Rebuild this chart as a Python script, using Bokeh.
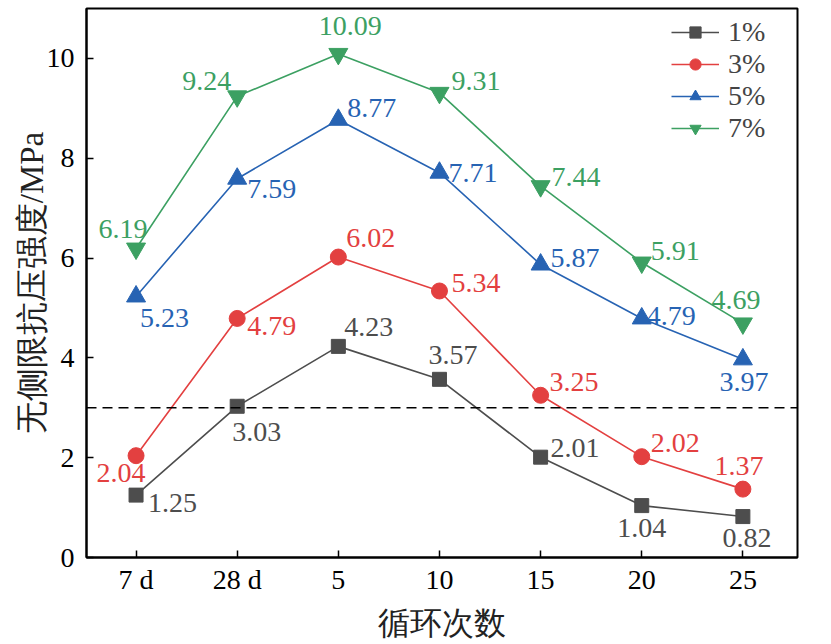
from bokeh.plotting import figure
from bokeh.models import ColumnDataSource, Span, FixedTicker, Legend, LegendItem
from bokeh.core.properties import value
from bokeh.embed import file_html
from bokeh.resources import INLINE

x_labels = ["7 d", "28 d", "5", "10", "15", "20", "25"]
series_names = ["1%", "3%", "5%", "7%"]
s1 = [1.25, 3.03, 4.23, 3.57, 2.01, 1.04, 0.82]
s3 = [2.04, 4.79, 6.02, 5.34, 3.25, 2.02, 1.37]
s5 = [5.23, 7.59, 8.77, 7.71, 5.87, 4.79, 3.97]
s7 = [6.19, 9.24, 10.09, 9.31, 7.44, 5.91, 4.69]
threshold = 3.0

# styles
colors = ["#4d4d4d", "#e34040", "#2763b3", "#3ca062"]
markers = ["square", "circle", "triangle", "inverted_triangle"]
msizes = [14, 16, 19, 19]
# label offsets (dx, dy px from point to text centre; dy positive = down) and alignment
label_dx = [
    [12, -5, 6, -11, 10, 0, 4],
    [-15, 10, 8, 12, 9, 9, -4],
    [4, 10, 9, 9, 10, 5, 1],
    [-13, -6, 12, 12, 11, 9, -7],
]
label_dy = [
    [8, 26, -19, -24, -9, 22, 21],
    [17, 8, -19, -8, -13, -14, -23],
    [22, 10, -12, 0, -7, -2, 23],
    [-20, -15, -28, -12, -9, -12, -23],
]
label_align = [
    ["left", "left", "left", "left", "left", "center", "center"],
    ["center", "left", "left", "left", "left", "left", "center"],
    ["left", "left", "left", "left", "left", "left", "center"],
    ["center", "right", "center", "left", "left", "left", "center"],
]

SERIF = "Liberation Serif"
FS = "28px"

xs = list(range(len(x_labels)))

p = figure(width=825, height=643, output_backend="svg", toolbar_location=None,
           x_range=(-0.49, 6.54), y_range=(0, 11.0),
           min_border_left=86, min_border_right=28, min_border_top=8, min_border_bottom=86)
p.grid.visible = False
p.outline_line_color = "black"
p.outline_line_width = 2

p.xaxis.ticker = FixedTicker(ticks=xs)
p.xaxis.major_label_overrides = {i: lab for i, lab in enumerate(x_labels)}
p.yaxis.ticker = FixedTicker(ticks=[0, 2, 4, 6, 8, 10])
for ax in (p.xaxis, p.yaxis):
    ax.axis_line_width = 2
    ax.major_tick_in = 7
    ax.major_tick_out = 0
    ax.minor_tick_in = 0
    ax.minor_tick_out = 0
    ax.major_tick_line_width = 1.5
    ax.major_label_text_font = SERIF
    ax.major_label_text_font_size = FS
    ax.major_label_text_color = "black"
    ax.axis_label_text_font = SERIF
    ax.axis_label_text_font_style = "normal"
    ax.axis_label_text_color = "#222222"
p.xaxis.axis_label_text_font_size = "32px"
p.yaxis.axis_label_text_font_size = "33px"
p.xaxis.major_label_standoff = 6
p.yaxis.major_label_standoff = 12
p.xaxis.axis_label = "循环次数"
p.yaxis.axis_label = "无侧限抗压强度/MPa"
p.xaxis.axis_label_standoff = 7
p.yaxis.axis_label_standoff = -6

p.add_layout(Span(location=threshold, dimension="width", line_color="black",
                  line_dash="10 6", line_width=1.5))

items = []
for k, (name, ys) in enumerate(zip(series_names, [s1, s3, s5, s7])):
    src = ColumnDataSource(dict(x=xs, y=ys))
    ln = p.line("x", "y", source=src, line_color=colors[k], line_width=1.6)
    sc = p.scatter("x", "y", source=src, marker=markers[k], size=msizes[k],
                   fill_color=colors[k], line_color=colors[k])
    for i in range(len(xs)):
        p.text(x=[xs[i]], y=[ys[i]], text=[f"{ys[i]:.2f}"],
               x_offset=label_dx[k][i], y_offset=label_dy[k][i],
               text_align=label_align[k][i], text_baseline="middle",
               text_color=colors[k], text_font=value(SERIF), text_font_size=FS)
    items.append(LegendItem(label=name, renderers=[ln, sc]))

legend = Legend(items=items, location="top_right", margin=8, padding=0,
                border_line_color=None, background_fill_alpha=0,
                glyph_width=48, glyph_height=28, label_height=28, label_width=61,
                label_standoff=9, spacing=-8,
                label_text_font=SERIF, label_text_font_size=FS)
p.add_layout(legend)

open("out.html", "w").write(file_html(p, INLINE))
